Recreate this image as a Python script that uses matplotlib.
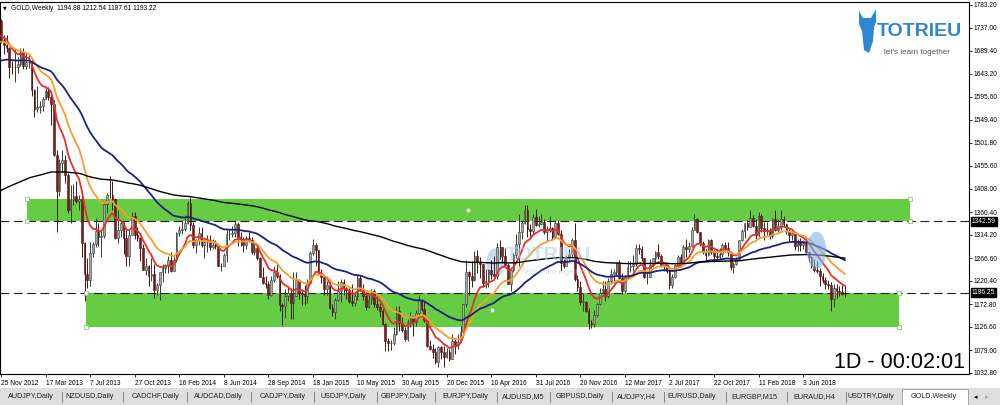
"""
GOLD weekly chart (MT4 style screenshot) with EMAs and supply / demand zones.
"""
import numpy as np
import pandas as pd
import matplotlib
matplotlib.use("Agg")
import matplotlib.pyplot as plt
from matplotlib.patches import Rectangle, Ellipse, Polygon

# --- DATA: weekly bars from 25 Nov 2012 to 16 Sep 2018 (open = previous close) ---
first_open = 1751.0
closes = [
    1712, 1701, 1696, 1657, 1656, 1656, 1662, 1687, 1658, 1667,
    1667, 1609, 1572, 1576, 1577, 1592, 1608, 1596, 1581, 1477,
    1403, 1462, 1468, 1436, 1365, 1386, 1393, 1383, 1387, 1297,
    1234, 1223, 1277, 1296, 1322, 1310, 1313, 1377, 1396, 1395,
    1387, 1308, 1325, 1338, 1309, 1272, 1315, 1352, 1315, 1308,
    1287, 1243, 1250, 1230, 1235, 1203, 1213, 1238, 1247, 1254,
    1264, 1241, 1263, 1319, 1324, 1326, 1339, 1379, 1335, 1293,
    1303, 1318, 1293, 1300, 1300, 1290, 1293, 1292, 1250, 1252,
    1274, 1316, 1316, 1319, 1337, 1310, 1307, 1293, 1309, 1305,
    1280, 1287, 1268, 1229, 1216, 1215, 1192, 1222, 1238, 1231,
    1171, 1169, 1190, 1196, 1175, 1190, 1222, 1195, 1194, 1189,
    1216, 1277, 1293, 1283, 1234, 1228, 1204, 1213, 1166, 1158,
    1182, 1199, 1219, 1207, 1203, 1179, 1175, 1189, 1226, 1204,
    1190, 1168, 1181, 1201, 1174, 1168, 1160, 1133, 1099, 1094,
    1094, 1113, 1160, 1134, 1121, 1103, 1137, 1145, 1137, 1156,
    1181, 1163, 1141, 1088, 1081, 1076, 1056, 1086, 1075, 1065,
    1075, 1061, 1098, 1089, 1097, 1117, 1173, 1239, 1230, 1222,
    1271, 1260, 1255, 1216, 1220, 1242, 1234, 1231, 1290, 1289,
    1272, 1253, 1214, 1243, 1274, 1296, 1321, 1339, 1366, 1327,
    1322, 1351, 1335, 1336, 1341, 1320, 1325, 1328, 1310, 1339,
    1316, 1257, 1252, 1267, 1276, 1304, 1225, 1209, 1178, 1178,
    1159, 1135, 1132, 1152, 1173, 1196, 1205, 1190, 1220, 1234,
    1238, 1257, 1226, 1201, 1229, 1248, 1251, 1256, 1288, 1285,
    1268, 1228, 1229, 1254, 1268, 1280, 1271, 1254, 1257, 1241,
    1213, 1228, 1254, 1269, 1258, 1290, 1286, 1291, 1325, 1346,
    1320, 1297, 1279, 1274, 1303, 1280, 1272, 1269, 1275, 1294,
    1288, 1280, 1248, 1256, 1266, 1303, 1322, 1338, 1331, 1349,
    1333, 1315, 1352, 1329, 1322, 1324, 1313, 1347, 1325, 1332,
    1346, 1336, 1323, 1315, 1319, 1291, 1302, 1294, 1298, 1279,
    1270, 1252, 1242, 1241, 1231, 1223, 1214, 1212, 1184, 1206,
    1201, 1198, 1194.88, 1193.22,
]
highs = [
    1755, 1723, 1723, 1698, 1670, 1694, 1677, 1695, 1696, 1685,
    1683, 1675, 1612, 1619, 1588, 1596, 1616, 1616, 1605, 1589,
    1487, 1470, 1487, 1477, 1440, 1417, 1418, 1424, 1396, 1393,
    1300, 1267, 1299, 1299, 1348, 1338, 1322, 1380, 1400, 1434,
    1424, 1390, 1366, 1343, 1340, 1326, 1325, 1361, 1361, 1330,
    1310, 1296, 1267, 1253, 1268, 1255, 1216, 1239, 1255, 1256,
    1272, 1280, 1272, 1320, 1332, 1345, 1355, 1384, 1392, 1341,
    1306, 1330, 1331, 1307, 1315, 1315, 1306, 1304, 1295, 1257,
    1278, 1325, 1326, 1332, 1345, 1340, 1321, 1311, 1313, 1321,
    1311, 1296, 1290, 1270, 1248, 1230, 1220, 1230, 1250, 1255,
    1235, 1175, 1205, 1208, 1207, 1238, 1238, 1225, 1205, 1212,
    1225, 1282, 1307, 1298, 1284, 1244, 1233, 1220, 1224, 1173,
    1185, 1220, 1224, 1224, 1209, 1207, 1215, 1194, 1232, 1233,
    1215, 1198, 1194, 1205, 1205, 1190, 1175, 1166, 1135, 1105,
    1100, 1126, 1170, 1170, 1147, 1126, 1143, 1157, 1150, 1162,
    1191, 1184, 1180, 1142, 1101, 1091, 1083, 1088, 1088, 1088,
    1084, 1082, 1112, 1105, 1112, 1128, 1174, 1263, 1240, 1261,
    1281, 1284, 1270, 1255, 1244, 1244, 1263, 1271, 1297, 1304,
    1290, 1288, 1257, 1244, 1277, 1316, 1358, 1343, 1375, 1375,
    1337, 1356, 1367, 1352, 1358, 1347, 1332, 1352, 1330, 1344,
    1345, 1324, 1266, 1273, 1285, 1308, 1338, 1232, 1220, 1196,
    1180, 1165, 1141, 1162, 1175, 1206, 1220, 1220, 1226, 1244,
    1245, 1260, 1264, 1236, 1232, 1261, 1261, 1274, 1296, 1295,
    1291, 1268, 1238, 1265, 1268, 1282, 1296, 1276, 1260, 1260,
    1244, 1234, 1256, 1274, 1275, 1293, 1306, 1299, 1330, 1357,
    1348, 1321, 1302, 1286, 1306, 1306, 1283, 1285, 1287, 1297,
    1299, 1299, 1282, 1259, 1269, 1303, 1326, 1339, 1344, 1366,
    1355, 1346, 1361, 1356, 1340, 1340, 1329, 1349, 1365, 1346,
    1365, 1353, 1337, 1327, 1327, 1320, 1307, 1309, 1303, 1309,
    1280, 1271, 1265, 1262, 1246, 1236, 1229, 1223, 1219, 1214,
    1214, 1211, 1213, 1212.54,
]
lows = [
    1705, 1684, 1687, 1635, 1643, 1626, 1645, 1659, 1652, 1652,
    1654, 1598, 1554, 1565, 1562, 1568, 1591, 1590, 1539, 1476,
    1321, 1393, 1440, 1420, 1359, 1338, 1375, 1380, 1366, 1269,
    1180, 1207, 1210, 1269, 1290, 1292, 1270, 1308, 1360, 1389,
    1366, 1306, 1297, 1311, 1276, 1251, 1251, 1315, 1306, 1302,
    1262, 1242, 1232, 1210, 1220, 1185, 1192, 1181, 1219, 1236,
    1237, 1238, 1240, 1260, 1312, 1317, 1322, 1337, 1325, 1287,
    1277, 1293, 1290, 1268, 1280, 1284, 1285, 1285, 1250, 1240,
    1250, 1259, 1305, 1310, 1310, 1292, 1292, 1280, 1285, 1300,
    1275, 1273, 1264, 1228, 1214, 1207, 1183, 1190, 1218, 1226,
    1160, 1131, 1144, 1180, 1142, 1143, 1189, 1183, 1172, 1172,
    1176, 1216, 1273, 1252, 1233, 1216, 1191, 1192, 1164, 1150,
    1142, 1180, 1178, 1192, 1183, 1175, 1170, 1169, 1182, 1200,
    1182, 1162, 1166, 1173, 1168, 1161, 1147, 1130, 1077, 1078,
    1080, 1090, 1110, 1118, 1117, 1098, 1099, 1127, 1108, 1128,
    1152, 1160, 1137, 1085, 1079, 1064, 1052, 1046, 1061, 1046,
    1064, 1057, 1061, 1072, 1082, 1096, 1113, 1167, 1191, 1208,
    1220, 1236, 1227, 1208, 1207, 1209, 1224, 1230, 1224, 1265,
    1258, 1251, 1214, 1199, 1239, 1268, 1251, 1306, 1337, 1310,
    1311, 1314, 1333, 1330, 1334, 1316, 1302, 1321, 1305, 1308,
    1314, 1241, 1247, 1250, 1261, 1272, 1221, 1201, 1171, 1160,
    1158, 1122, 1124, 1126, 1147, 1172, 1196, 1180, 1186, 1215,
    1216, 1232, 1224, 1194, 1196, 1227, 1239, 1241, 1250, 1276,
    1262, 1226, 1214, 1229, 1248, 1260, 1266, 1248, 1240, 1236,
    1204, 1206, 1227, 1250, 1254, 1256, 1269, 1280, 1290, 1325,
    1318, 1291, 1276, 1260, 1271, 1276, 1262, 1264, 1265, 1270,
    1280, 1272, 1243, 1236, 1253, 1265, 1302, 1308, 1324, 1331,
    1331, 1306, 1311, 1321, 1303, 1315, 1306, 1309, 1322, 1321,
    1325, 1331, 1316, 1302, 1303, 1284, 1282, 1281, 1286, 1277,
    1260, 1246, 1238, 1236, 1211, 1217, 1205, 1205, 1160, 1167,
    1186, 1190, 1191, 1187.61,
]

# moving averages (EMA) and their values just left of the first bar
ema_periods = [10, 20, 50, 200]
ema_seeds = [1722, 1708, 1668, 1402]
ema_colors = ["#e8302c", "#f5a02a", "#1a237e", "#000000"]
ema_widths = [1.3, 1.3, 1.3, 1.0]

# zones: (first bar, last bar, low, high)
resistance_zone = [9.3, 326.3, 1342.59, 1388.0]
support_zone = [30.5, 322.3, 1127.0, 1196.25]
level_lines = [1342.59, 1196.25]

price_ticks = [1783.20, 1737.00, 1689.40, 1643.20, 1595.60, 1549.40, 1501.80,
               1455.60, 1408.00, 1360.40, 1314.20, 1266.60, 1220.40, 1172.80,
               1126.60, 1079.00, 1032.80]

tabs = ["AUDJPY,Daily", "NZDUSD,Daily", "CADCHF,Daily", "AUDCAD,Daily",
        "CADJPY,Daily", "USDJPY,Daily", "GBPJPY,Daily", "EURJPY,Daily",
        "AUDUSD,M5", "GBPUSD,Daily", "AUDJPY,H4", "EURUSD,Daily",
        "EURGBP,M15", "EURAUD,H4", "USDTRY,Daily", "GOLD,Weekly"]
tab_centers = [31, 90, 155, 218, 283, 343, 404, 465, 523, 580, 637, 692,
               754, 814, 871, 934]
tab_seps = [62, 123, 187, 251, 314, 377, 435, 497, 550, 612, 664, 726, 787, 846]

title = "GOLD,Weekly  1194.88 1212.54 1187.61 1193.22"
timer = "1D - 00:02:01"

SANS = ["Liberation Sans", "DejaVu Sans"]


def ema(values, period, seed):
    k = 2.0 / (period + 1)
    out, v = [], seed
    for x in values:
        v = v + k * (x - v)
        out.append(v)
    return np.array(out)


W, H = 1000, 405
BAR_PX = 2.785


def fx(px):
    return px / W


def fy(py):
    return 1 - py / H


def main():
    n = len(closes)
    idx = np.arange(n)
    c = np.array(closes, float)
    o = np.concatenate([[first_open], c[:-1]])
    h = np.array(highs, float)
    l = np.array(lows, float)
    dates = pd.date_range("2012-11-25", periods=n, freq="7D")

    fig = plt.figure(figsize=(W / 100, H / 100), dpi=100)
    fig.patch.set_facecolor("white")
    ax = fig.add_axes([0, fy(374), fx(969), (374 - 2) / H])
    ax.set_xlim(-1 / BAR_PX, 968 / BAR_PX)
    ax.set_ylim(1030.76, 1789.3)

    # zones
    for z in (resistance_zone, support_zone):
        ax.add_patch(Rectangle((z[0], z[2]), z[1] - z[0], z[3] - z[2],
                               facecolor="#66cc44", edgecolor="none", zorder=1))
        pts_x = [z[0], z[0], z[1], z[1]]
        pts_y = [z[2], z[3], z[2], z[3]]
        ax.scatter(pts_x, pts_y, marker="s", s=5, facecolor="white",
                   edgecolor="#66cc44", linewidths=0.5, zorder=6)
        ax.scatter([(z[0] + z[1]) / 2], [(z[2] + z[3]) / 2], marker="o", s=3,
                   color="white", zorder=6)
    for lvl in level_lines:
        ax.axhline(lvl, color="#222222", lw=0.8, ls=(0, (8, 4)), zorder=2)

    # faint watermark in the middle
    ax.add_patch(Ellipse((177.5, 1257), 6.5, 60, facecolor="#a9cdee",
                         edgecolor="none", alpha=0.7, zorder=0.5))
    fig.text(fx(506), fy(255), "TOTRIEU", color="#a9cdee", alpha=0.6,
             fontsize=14, fontweight="bold", va="center", ha="left",
             family=SANS, zorder=0.5)
    fig.text(fx(524), fy(272), "let's learn together", color="#c0c0c0",
             alpha=0.6, fontsize=5.4, va="center", ha="left", family=SANS)

    # candles
    up = c >= o
    wick_col = np.where(up, "#2f3f2f", "#4a1212")
    ax.vlines(idx, l, h, colors=wick_col, lw=0.7, zorder=3)
    body_lo = np.minimum(o, c)
    body_h = np.maximum(np.abs(c - o), 0.8)
    ax.bar(idx[up], body_h[up], bottom=body_lo[up], width=0.62,
           color="#a8a8a8", edgecolor="#2f3f2f", linewidth=0.4, zorder=3.1)
    ax.bar(idx[~up], body_h[~up], bottom=body_lo[~up], width=0.62,
           color="#7b1c1c", edgecolor="#4a1212", linewidth=0.4, zorder=3.1)

    # moving averages
    for per, seed, col, lw in zip(ema_periods, ema_seeds, ema_colors, ema_widths):
        ax.plot(idx, ema(c, per, seed), color=col, lw=lw, zorder=4)

    # highlight ellipse on the breakdown
    ax.add_patch(Ellipse((292.8, 1283), 7, 76, facecolor="#7fb6e6",
                         edgecolor="none", alpha=0.6, zorder=5))

    # axes styling
    for s in ax.spines.values():
        s.set_color("#000000")
        s.set_linewidth(0.8)
    ax.yaxis.tick_right()
    ax.set_yticks(price_ticks)
    ax.set_yticklabels([f"{p:.2f}" for p in price_ticks])
    ax.tick_params(axis="y", length=2, width=0.6, pad=1.5, labelsize=4.8,
                   colors="#000000")
    xt = idx[::16]
    ax.set_xticks(xt)
    ax.set_xticklabels([f"{d.day} {d.strftime('%b %Y')}" for d in dates[::16]],
                       ha="left")
    ax.tick_params(axis="x", length=2.5, width=0.6, pad=1.5, labelsize=4.8)
    for lab in ax.get_xticklabels() + ax.get_yticklabels():
        lab.set_family(SANS)

    # highlighted price labels
    trans = ax.get_yaxis_transform()
    for lvl in level_lines:
        ax.text(1.003, lvl, f"{lvl:.2f}", transform=trans, color="white",
                fontsize=4.8, va="center", ha="left", family=SANS,
                bbox=dict(boxstyle="square,pad=0.15", facecolor="black",
                          edgecolor="black"), clip_on=False, zorder=10)

    # title
    fig.text(fx(3), fy(8), "\u25bc", fontsize=3.5, va="center", ha="left")
    fig.text(fx(11), fy(8), title, fontsize=4.8, va="center", ha="left",
             family=SANS)

    # logo (top right)
    fig.patches.append(Polygon(
        [(fx(859), fy(11)), (fx(863), fy(18)), (fx(871), fy(18)),
         (fx(876), fy(9)), (fx(876), fy(22)), (fx(874), fy(27)),
         (fx(873), fy(41)), (fx(869), fy(53)), (fx(864), fy(50)),
         (fx(862), fy(31)), (fx(859), fy(24))],
        closed=True, facecolor="#2f86d2", edgecolor="none",
        transform=fig.transFigure, figure=fig))
    fig.text(fx(877), fy(31), "TOTRIEU", color="#2f86d2", fontsize=14,
             fontweight="bold", va="center", ha="left", family=SANS)
    fig.text(fx(884), fy(52), "let's learn together", color="#555555",
             fontsize=5.8, va="center", ha="left", family=SANS)

    # timer text
    fig.text(fx(965), fy(362), timer, fontsize=15.5, va="center", ha="right",
             family=SANS)

    # tab bar
    fig.patches.append(Rectangle((0, 0), 1, fy(388), facecolor="#dedede",
                                 edgecolor="none", transform=fig.transFigure,
                                 figure=fig))
    fig.patches.append(Rectangle((fx(902), 0), fx(66), fy(388) - 0.002,
                                 facecolor="white", edgecolor="#9a9a9a",
                                 lw=0.6, transform=fig.transFigure, figure=fig))
    for name, cx in zip(tabs, tab_centers):
        fig.text(fx(cx), fy(397), name, fontsize=5.2, va="center", ha="center",
                 color="#222222", family=SANS)
    for sx in tab_seps:
        fig.lines.append(plt.Line2D([fx(sx), fx(sx)], [fy(392), fy(402)],
                                    color="#777777", lw=0.6,
                                    transform=fig.transFigure, figure=fig))
    fig.text(fx(976), fy(397), "\u25c2", fontsize=5, va="center", ha="center")
    fig.text(fx(987), fy(397), "\u25b8", fontsize=5, va="center", ha="center",
             color="#aaaaaa")

    fig.savefig("out.png", dpi=100)
    plt.close(fig)


if __name__ == "__main__":
    main()
